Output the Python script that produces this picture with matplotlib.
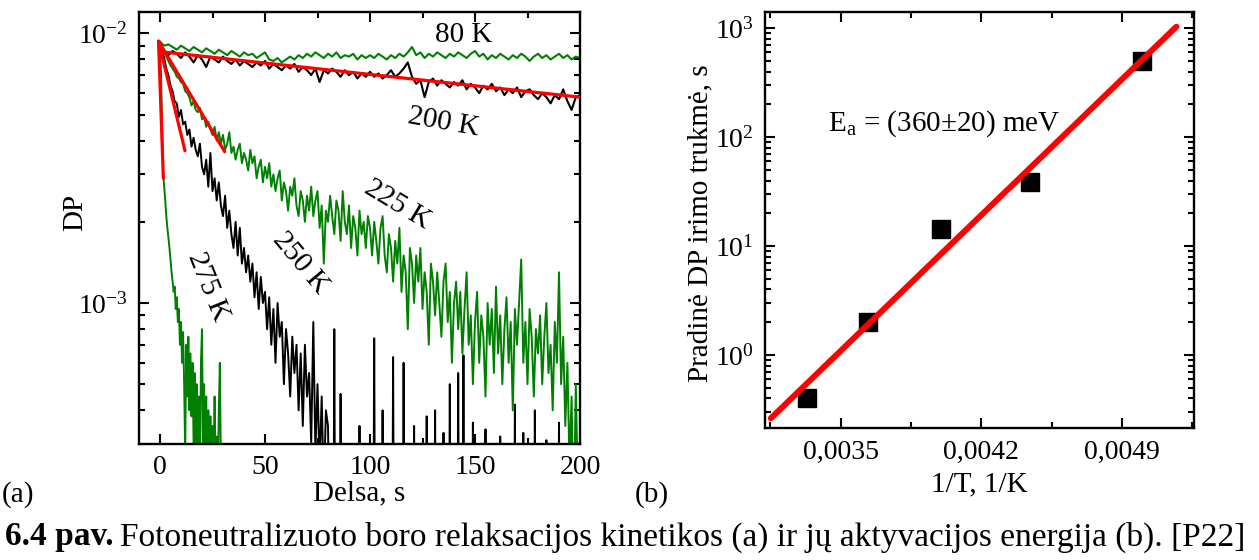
import matplotlib.pyplot as plt
import numpy as np

plt.rcParams['font.family'] = ['Liberation Serif', 'DejaVu Serif']
plt.rcParams['mathtext.fontset'] = 'custom'
plt.rcParams['mathtext.rm'] = 'Liberation Serif'
plt.rcParams['mathtext.it'] = 'Liberation Serif:italic'
plt.rcParams['mathtext.bf'] = 'Liberation Serif:bold'

# ---- (a) DP relaxation traces, values in units of 1e-3 ----
t80 = np.arange(0, 200.1, 2)
dp80 = [9.3, 9.0, 9.1, 8.9, 8.7, 9.0, 8.8, 8.6, 8.9, 8.7,
        8.5, 8.8, 8.6, 8.4, 8.7, 8.5, 8.3, 8.6, 8.4, 8.2,
        8.5, 8.3, 8.4, 8.1, 8.3, 8.5, 8.0, 7.9, 8.1, 7.8,
        8.0, 8.2, 8.0, 8.3, 8.1, 8.4, 8.2, 8.5, 8.3, 8.1,
        8.4, 8.2, 8.5, 8.1, 8.3, 8.2, 8.4, 8.0, 8.3, 8.1,
        8.3, 8.1, 8.4, 8.2, 8.0, 8.3, 8.1, 8.4, 8.2, 8.5,
        8.9, 8.3, 8.5, 8.1, 8.4, 8.2, 8.5, 8.3, 8.1, 8.4,
        8.2, 8.5, 8.3, 8.1, 8.4, 8.6, 8.2, 8.4, 8.0, 8.3,
        8.1, 8.4, 8.2, 8.0, 8.3, 8.1, 8.4, 8.2, 7.9, 8.2,
        8.4, 8.1, 8.3, 8.0, 8.2, 8.4, 8.1, 8.3, 8.0, 8.2,
        8.1]

t200 = np.arange(0, 200.1, 2)
dp200 = [9.2, 8.6, 8.3, 8.6, 8.4, 8.1, 8.5, 8.2, 7.8, 8.3,
         8.0, 7.5, 8.2, 8.0, 7.8, 8.2, 7.9, 7.7, 8.0, 7.6,
         7.9, 7.7, 7.5, 7.8, 7.6, 7.9, 7.4, 7.7, 7.5, 7.3,
         7.6, 7.4, 7.7, 7.2, 7.5, 7.3, 7.0, 7.4, 6.6, 7.3,
         7.1, 7.4, 7.2, 6.9, 7.3, 7.0, 7.2, 6.8, 7.1, 6.9,
         7.2, 6.9, 7.1, 6.8, 7.0, 7.3, 6.9, 7.1, 7.4, 7.8,
         6.9, 6.5, 6.7, 5.8, 6.6, 6.8, 6.4, 6.7, 6.5, 6.3,
         6.6, 6.4, 6.7, 6.2, 6.5, 6.3, 6.0, 6.4, 6.2, 6.5,
         6.1, 6.3, 5.9, 6.2, 6.0, 6.3, 5.8, 6.1, 6.2, 5.9,
         5.7, 6.0, 5.8, 5.5, 5.9, 5.7, 6.2, 5.6, 5.2, 5.8,
         5.9]

t225 = np.arange(0, 200.1, 1)
dp225 = [9.3, 8.9, 8.5, 8.2, 7.9, 7.6, 7.4, 7.2, 6.9, 6.8,
         6.6, 6.5, 6.1, 6.0, 5.8, 5.4, 5.6, 5.2, 5.1, 5.3,
         4.8, 4.9, 4.5, 4.7, 4.4, 4.2, 4.5, 4.0, 4.3, 3.9,
         4.2, 3.7, 3.9, 4.3, 3.6, 3.8, 3.4, 3.7, 3.9, 3.3,
         3.6, 3.4, 3.1, 3.7, 3.3, 3.5, 2.9, 3.2, 3.4, 2.8,
         3.2, 2.9, 3.3, 2.7, 3.0, 2.6, 2.9, 3.1, 2.4, 2.8,
         2.6, 2.2, 2.7, 2.5, 2.9, 2.3, 2.1, 2.6, 2.4, 2.0,
         2.5, 2.2, 2.7, 2.1, 2.4, 2.6, 1.9, 2.3, 1.4, 2.2,
         2.0, 2.5, 2.1, 1.8, 2.4, 2.2, 1.7, 2.6, 2.0, 1.8,
         2.3, 1.6, 2.1, 1.9, 1.5, 2.2, 1.8, 2.0, 1.6, 2.1,
         1.9, 1.5, 2.0, 1.7, 1.4, 1.9, 2.1, 1.5, 1.3, 1.8,
         1.6, 1.2, 1.7, 1.4, 1.9, 1.1, 1.5, 1.3, 0.8, 1.6,
         1.4, 1.0, 1.5, 1.2, 1.6, 0.95, 1.3, 1.1, 0.7, 1.4,
         1.2, 0.9, 1.3, 1.0, 0.75, 1.2, 1.4, 0.85, 1.1, 0.6,
         1.0, 1.2, 0.8, 1.1, 0.65, 0.95, 1.3, 0.7, 0.9, 0.5,
         0.85, 1.1, 0.6, 0.9, 0.75, 0.45, 1.0, 0.7, 0.95, 0.55,
         1.15, 0.65, 0.9, 0.5, 0.8, 1.05, 0.6, 0.85, 0.4, 0.95,
         0.7, 1.0, 1.45, 0.6, 0.85, 0.5, 0.95, 0.75, 0.45, 0.8,
         0.65, 0.9, 0.5, 0.75, 1.0, 0.55, 0.7, 0.4, 0.85, 0.6,
         1.3, 0.5, 0.75, 0.35, 0.6, 0.25, 0.45, 0.15, 0.5, 0.2,
         0.3]

t250 = np.arange(0, 80.1, 1)
dp250 = [9.3, 8.6, 8.1, 7.4, 7.0, 6.4, 6.1, 5.6, 5.5, 4.9,
         5.2, 4.6, 4.7, 4.2, 4.4, 3.8, 4.1, 3.7, 3.5, 3.9,
         3.2, 3.0, 3.4, 2.7, 3.6, 2.6, 2.9, 2.4, 2.8, 2.3,
         2.1, 2.5, 1.9, 2.2, 1.8, 1.6, 2.0, 1.5, 1.9, 1.4,
         1.6, 1.3, 1.5, 1.2, 1.4, 1.05, 1.3, 0.95, 1.25, 1.0,
         1.1, 0.8, 1.05, 0.7, 0.95, 0.6, 1.0, 0.75, 0.85, 0.5,
         0.8, 0.65, 0.45, 0.75, 0.55, 0.7, 0.4, 0.65, 0.35, 0.7,
         0.45, 0.55, 0.3, 0.85, 0.28, 0.5, 0.25, 0.45, 0.2, 0.4,
         0.35]
# after ~80 s the 250 K trace sits below the axis, only spikes show
t250_tail = [81, 82.6, 83, 83.4, 85.6, 86, 86.4, 94.6, 95, 95.4,
             101.6, 102, 102.4, 105.6, 106, 106.4, 110.6, 111, 111.4, 115.6,
             116, 116.4, 120.6, 121, 121.4, 126.6, 127, 127.4, 130.6, 131,
             131.4, 134.6, 135, 135.4, 137.6, 138, 138.4, 141.6, 142, 142.4,
             144.1, 144.5, 144.9, 148.6, 149, 149.4, 154.6, 155, 155.4, 161.6,
             162, 162.4, 168.6, 169, 169.4, 172.6, 173, 173.4, 178.1, 178.5,
             178.9, 183.6, 184, 184.4, 189.6, 190, 190.4, 195.6, 196, 196.4,
             200]
dp250_tail = [0.1, 0.1, 0.8, 0.1, 0.1, 0.46, 0.1, 0.1, 0.35, 0.1,
              0.1, 0.74, 0.1, 0.1, 0.4, 0.1, 0.1, 0.63, 0.1, 0.1,
              0.6, 0.1, 0.1, 0.35, 0.1, 0.1, 0.38, 0.1, 0.1, 0.4,
              0.1, 0.1, 0.33, 0.1, 0.1, 0.5, 0.1, 0.1, 0.55, 0.1,
              0.1, 0.64, 0.1, 0.1, 0.36, 0.1, 0.1, 0.34, 0.1, 0.1,
              0.32, 0.1, 0.1, 0.42, 0.1, 0.1, 0.33, 0.1, 0.1, 0.4,
              0.1, 0.1, 0.31, 0.1, 0.1, 0.36, 0.1, 0.1, 0.32, 0.1,
              0.1]

t275 = np.arange(0, 30.1, 0.5)
dp275 = [9.2, 7.0, 4.5, 3.0, 2.7, 2.4, 2.1, 1.9, 1.75, 1.6,
         1.45, 1.3, 1.2, 1.1, 1.15, 0.95, 1.05, 0.85, 0.95, 0.7,
         0.85, 0.6, 0.78, 0.5, 0.28, 0.7, 0.45, 0.75, 0.4, 0.65,
         0.38, 0.6, 0.3, 0.55, 0.25, 0.5, 0.28, 0.45, 0.2, 0.6,
         0.8, 0.3, 0.5, 0.2, 0.45, 0.15, 0.4, 0.2, 0.38, 0.1,
         0.35, 0.15, 0.45, 0.1, 0.32, 0.2, 0.4, 0.6, 0.25, 0.1,
         0.1]

# red initial-slope fits (t, DP*1e3)
fit200_t, fit200_dp = [0.3, 200], [8.55, 5.8]
fit225_t, fit225_dp = [-0.7, 30.8], [9.35, 3.64]
fit250_t, fit250_dp = [-0.7, 11.9], [9.35, 3.67]
fit275_t, fit275_dp = [-0.7, 1.6], [9.35, 2.9]

# curve labels: text, t, DP*1e3, rotation
curve_labels = [("80 K", 144.8, 9.86, 0), ("200 K", 135.2, 4.69, -10),
                ("225 K", 113.2, 2.31, -31), ("250 K", 66.9, 1.41, -50),
                ("275 K", 22.9, 1.15, -68)]

# ---- (b) Arrhenius plot ----
inv_T = [0.003333, 0.003636, 0.004, 0.004444, 0.005]
tau = [0.40, 2.0, 14.2, 39, 500]
fit_inv_T = [0.003153, 0.00517]
fit_tau = [0.262, 1035]

W, H = 1259, 560
fig = plt.figure(figsize=(W / 100, H / 100), dpi=100)
ax1 = fig.add_axes([139 / W, 1 - 444 / H, (580 - 139) / W, (444 - 12) / H])
ax2 = fig.add_axes([765 / W, 1 - 428.3 / H, (1194.3 - 765) / W, (428.3 - 12.3) / H])

green = '#008000'
s = 1e-3
ax1.plot(t200, np.array(dp200) * s, color='black', lw=1.5)
ax1.plot(t80, np.array(dp80) * s, color=green, lw=1.5)
ax1.plot(np.concatenate([t250, t250_tail]), np.concatenate([dp250, dp250_tail]) * s,
         color='black', lw=1.4)
ax1.plot(t225, np.array(dp225) * s, color=green, lw=1.4)
ax1.plot(t275, np.array(dp275) * s, color=green, lw=1.4)
for ft, fd in [(fit200_t, fit200_dp), (fit225_t, fit225_dp),
               (fit250_t, fit250_dp), (fit275_t, fit275_dp)]:
    ax1.plot(ft, np.array(fd) * s, color='red', lw=2.3, solid_capstyle='round', zorder=5)
for txt, x, y, rot in curve_labels:
    ax1.text(x, y * s, txt, fontsize=21, rotation=rot, ha='center', va='center',
             rotation_mode='anchor', zorder=6)

ax1.set_yscale('log')
ax1.set_xlim(-10, 200)
ax1.set_ylim(3e-4, 0.0120)
ax1.set_xticks([0, 50, 100, 150, 200])
ax1.set_xticks([25, 75, 125, 175], minor=True)
ax1.yaxis.set_minor_formatter(plt.NullFormatter())
ax1.set_xlabel("Delsa, s", fontsize=21, va='center')
ax1.xaxis.set_label_coords(0.5, (444 - 493) / 432)
ax1.set_ylabel("DP", fontsize=21, va='center')
ax1.yaxis.set_label_coords((75 - 139) / 441, (444 - 212) / 432)

ax2.plot(inv_T, tau, 's', color='black', ms=13, zorder=3)
ax2.plot(fit_inv_T, fit_tau, color='red', lw=4.3, solid_capstyle='round', zorder=4)
ax2.text(0.003437, 116, "E$_\\mathrm{a}$ = (360±20) meV", fontsize=21,
         ha='left', va='baseline')
ax2.set_yscale('log')
ax2.set_xlim(0.003124, 0.005259)
ax2.set_ylim(0.212, 1403)
ax2.set_xticks([0.0035, 0.0042, 0.0049], labels=['0,0035', '0,0042', '0,0049'])
ax2.set_xticks([0.00315, 0.00385, 0.00455, 0.00525], minor=True)
ax2.yaxis.set_minor_formatter(plt.NullFormatter())
ax2.set_xlabel("1/T, 1/K", fontsize=21, va='center')
ax2.xaxis.set_label_coords(0.5, (428.3 - 484) / 416)
ax2.set_ylabel("Pradinė DP irimo trukmė, s", fontsize=21, va='center')
ax2.yaxis.set_label_coords((700 - 765) / 429.3, (428.3 - 223) / 416)

for ax in (ax1, ax2):
    ax.tick_params(which='both', direction='in', top=True, right=True,
                   width=1.5, labelsize=20, pad=8)
    ax.tick_params(which='major', length=7)
    ax.tick_params(which='minor', length=4.5)
    for sp in ax.spines.values():
        sp.set_linewidth(1.7)

fig.text(18 / W, 1 - 495 / H, "(a)", fontsize=21, ha='center', va='center')
fig.text(652 / W, 1 - 495 / H, "(b)", fontsize=21, ha='center', va='center')

# caption: bold figure number followed by regular text
cap_bold = fig.text(5 / W, 1 - 537 / H, "6.4 pav.", fontsize=24,
                    fontweight='bold', ha='left', va='center')
fig.canvas.draw()
bb = cap_bold.get_window_extent()
fig.text((bb.x1 + 6) / W, 1 - 537 / H,
         "Fotoneutralizuoto boro relaksacijos kinetikos (a) "
         "ir jų aktyvacijos energija (b). [P22]",
         fontsize=24, ha='left', va='center')

fig.savefig("out.png", dpi=100)
